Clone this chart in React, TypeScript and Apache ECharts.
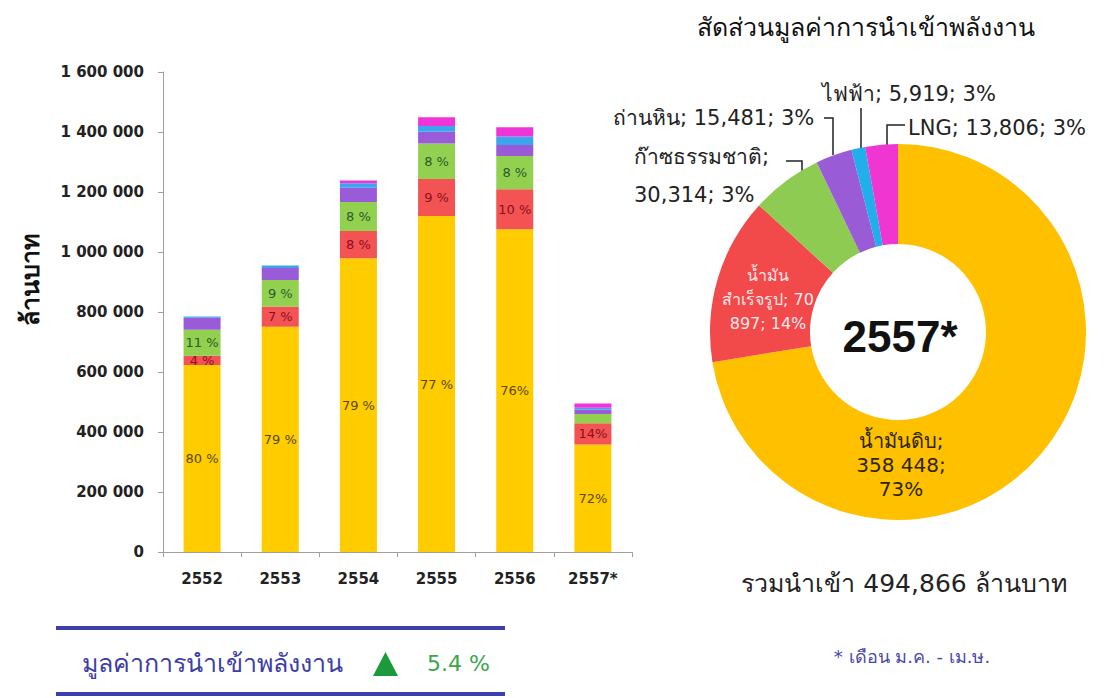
import React, { useEffect, useRef } from "react";
import * as echarts from "echarts";

const years = ["2552", "2553", "2554", "2555", "2556", "2557*"];
const yTicks = [0, 200000, 400000, 600000, 800000, 1000000, 1200000, 1400000, 1600000];

const crudeOil = [623000, 751000, 979000, 1120000, 1076000, 358448];
const refinedOil = [31000, 67000, 91000, 123000, 133000, 70897];
const naturalGas = [87000, 89000, 97000, 119000, 111000, 30314];
const coal = [40000, 40000, 47000, 39000, 37000, 15481];
const electricity = [4000, 8000, 15000, 19000, 28000, 5919];
const lng = [0, 0, 9000, 29000, 31000, 13806];

const crudeLabels = ["80 %", "79 %", "79 %", "77 %", "76%", "72%"];
const refinedLabels = ["4 %", "7 %", "8 %", "9 %", "10 %", "14%"];
const gasLabels = ["11 %", "9 %", "8 %", "8 %", "8 %", ""];

const shareNames = ["น้ำมันดิบ", "น้ำมันสำเร็จรูป", "ก๊าซธรรมชาติ", "ถ่านหิน", "ไฟฟ้า", "LNG"];
const shareValues = [358448, 70897, 30314, 15481, 5919, 13806];
const shareLabels = [
  "น้ำมันดิบ;\n358 448;\n73%",
  "น้ำมัน\nสำเร็จรูป; 70\n897; 14%",
  "ก๊าซธรรมชาติ;\n30,314; 3%",
  "ถ่านหิน; 15,481; 3%",
  "ไฟฟ้า; 5,919; 3%",
  "LNG; 13,806; 3%",
];

const FONT = "Tahoma, 'DejaVu Sans', 'Noto Sans', sans-serif";
const barColors = ["#FFCC00", "#F45353", "#92D050", "#9A5BD8", "#3DA4EE", "#F035D8"];
const pieColors = ["#FFC000", "#F24A4A", "#8DCB52", "#9A5BD6", "#22AEEA", "#F036D0"];

const fmtSpace = (v: number) => String(v).replace(/\B(?=(\d{3})+(?!\d))/g, " ");

export default function App() {
  const ref = useRef<HTMLDivElement>(null);
  useEffect(() => {
    if (!ref.current) return;
    const chart = echarts.init(ref.current, undefined, { renderer: "svg" });

    const barSeries = (name: string, data: number[], color: string, labels: string[] | null, labelColor: string) => ({
      name,
      type: "bar",
      stack: "total",
      barWidth: 37,
      data: data.map((v, i) => ({
        value: v,
        label: labels ? { show: labels[i] !== "", formatter: labels[i] } : { show: false },
      })),
      itemStyle: { color },
      label: {
        position: "inside",
        color: labelColor,
        fontSize: 13,
        fontFamily: FONT,
      },
    });

    const layouts: any[] = [
      { x: 901, y: 465, align: "center", verticalAlign: "middle" },
      { x: 768, y: 299, align: "center", verticalAlign: "middle" },
      { x: 634, y: 176, align: "left", verticalAlign: "middle", labelLinePoints: [[802, 178], [802, 161], [786, 161]] },
      { x: 613, y: 118, align: "left", verticalAlign: "middle", labelLinePoints: [[833, 155], [833, 118], [824, 118]] },
      { x: 822, y: 94, align: "left", verticalAlign: "middle", labelLinePoints: [[861, 150], [861, 129], [861, 108]] },
      { x: 908, y: 128, align: "left", verticalAlign: "middle", labelLinePoints: [[887, 147], [887, 125], [905, 125]] },
    ];

    const option: any = {
      animation: false,
      backgroundColor: "#ffffff",
      grid: { left: 163, right: 472, top: 72, bottom: 146, containLabel: false },
      xAxis: {
        type: "category",
        data: years,
        axisLine: { lineStyle: { color: "#a0a0a0", width: 1 } },
        axisTick: { show: true, length: 5, lineStyle: { color: "#a0a0a0" } },
        axisLabel: { color: "#222", fontWeight: "bold", fontSize: 15, fontFamily: FONT, margin: 19 },
      },
      yAxis: {
        type: "value",
        min: 0,
        max: 1600000,
        interval: 200000,
        axisLine: { show: true, lineStyle: { color: "#a0a0a0", width: 1 } },
        axisTick: { show: true, length: 5, lineStyle: { color: "#a0a0a0" } },
        splitLine: { show: false },
        axisLabel: {
          color: "#222",
          fontWeight: "bold",
          fontSize: 15,
          fontFamily: FONT,
          margin: 19,
          customValues: yTicks,
          formatter: (v: number) => fmtSpace(v),
        },
      },
      series: [
        barSeries("น้ำมันดิบ", crudeOil, barColors[0], crudeLabels, "#5a4800"),
        barSeries("น้ำมันสำเร็จรูป", refinedOil, barColors[1], refinedLabels, "#8a1020"),
        barSeries("ก๊าซธรรมชาติ", naturalGas, barColors[2], gasLabels, "#2d5a2d"),
        barSeries("ถ่านหิน", coal, barColors[3], null, "#000"),
        barSeries("ไฟฟ้า", electricity, barColors[4], null, "#000"),
        barSeries("LNG", lng, barColors[5], null, "#000"),
        {
          type: "pie",
          center: [898, 332],
          radius: [88, 188],
          startAngle: 90,
          clockwise: true,
          avoidLabelOverlap: false,
          data: shareNames.map((n, i) => ({
            name: n,
            value: shareValues[i],
            itemStyle: { color: pieColors[i] },
            label:
              i === 0
                ? { position: "inside", color: "#2e2600", fontSize: 20, lineHeight: 24, align: "center" }
                : i === 1
                ? { position: "inside", color: "#ffe8ec", fontSize: 16, lineHeight: 24, align: "center" }
                : i === 2
                ? { position: "outside", color: "#222", fontSize: 21, lineHeight: 38 }
                : { position: "outside", color: "#222", fontSize: 21 },
            labelLine: { show: i >= 2, lineStyle: { color: "#222", width: 1.5 } },
          })),
          label: {
            show: true,
            fontFamily: FONT,
            formatter: (p: any) => shareLabels[p.dataIndex],
          },
          labelLine: { show: true, length: 5, length2: 5 },
          labelLayout: (p: any) => layouts[p.dataIndex],
        },
      ],
      graphic: [
        {
          type: "text",
          x: 30,
          y: 280,
          rotation: Math.PI / 2,
          style: { text: "ล้านบาท", font: `bold 25px ${FONT}`, fill: "#111", align: "center", verticalAlign: "middle" },
        },
        {
          type: "text",
          x: 866,
          y: 27,
          style: { text: "สัดส่วนมูลค่าการนำเข้าพลังงาน", font: `25px ${FONT}`, fill: "#111", align: "center", verticalAlign: "middle" },
        },
        {
          type: "text",
          x: 900,
          y: 336,
          style: { text: "2557*", font: `bold 44px 'Liberation Sans', Arial, sans-serif`, fill: "#111", align: "center", verticalAlign: "middle" },
        },
        {
          type: "text",
          x: 904,
          y: 583,
          style: { text: "รวมนำเข้า 494,866 ล้านบาท", font: `25px ${FONT}`, fill: "#222", align: "center", verticalAlign: "middle" },
        },
        {
          type: "text",
          x: 912,
          y: 656,
          style: { text: "* เดือน ม.ค. - เม.ษ.", font: `18px ${FONT}`, fill: "#4848a8", align: "center", verticalAlign: "middle" },
        },
        { type: "rect", shape: { x: 56, y: 626, width: 449, height: 4 }, style: { fill: "#3b3fae" } },
        { type: "rect", shape: { x: 56, y: 692, width: 449, height: 4 }, style: { fill: "#3b3fae" } },
        {
          type: "text",
          x: 82,
          y: 663,
          style: { text: "มูลค่าการนำเข้าพลังงาน", font: `25px ${FONT}`, fill: "#3c3ca8", verticalAlign: "middle" },
        },
        { type: "polygon", shape: { points: [[373, 676], [385.5, 652], [398, 676]] }, style: { fill: "#1a9a3a" } },
        {
          type: "text",
          x: 427,
          y: 663,
          style: { text: "5.4 %", font: `22px ${FONT}`, fill: "#3aa64a", verticalAlign: "middle" },
        },
      ],
    };
    chart.setOption(option);
    return () => chart.dispose();
  }, []);
  return <div ref={ref} style={{ position: "fixed", left: 0, top: 0, width: 1104, height: 698 }} />;
}
